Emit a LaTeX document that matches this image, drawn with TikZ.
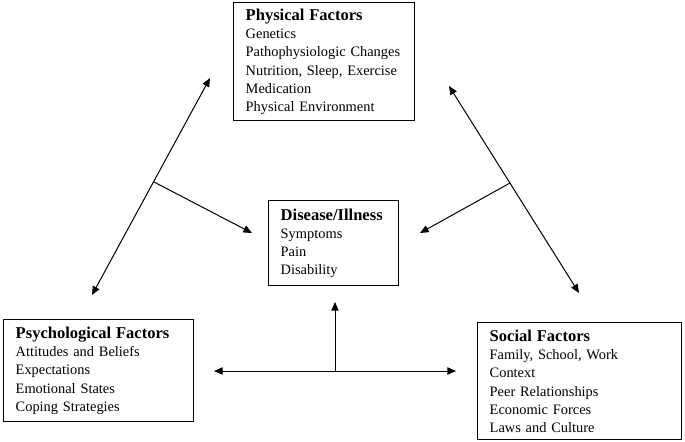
\documentclass[tikz,border=0pt]{standalone}
\usepackage{fontspec}
\setmainfont{Liberation Serif}
\usetikzlibrary{arrows.meta}

\newcommand{\boxtitle}[1]{{\fontsize{12.4}{13.6}\selectfont\bfseries #1}}

\begin{document}
\begin{tikzpicture}[x=0.75pt,y=-0.75pt,
    factorbox/.style={draw,line width=1.1pt,anchor=north west,align=left,
        inner xsep=9pt,inner ysep=3pt,
        font=\fontsize{10.8}{13.7}\selectfont},
    link/.style={line width=0.75pt,-{Triangle[length=6.5pt,width=5.5pt]}},
    biglink/.style={line width=0.75pt,{Triangle[length=6.5pt,width=5.5pt]}-{Triangle[length=6.5pt,width=5.5pt]}}]
  \useasboundingbox (0,0) rectangle (685,442);

  % four boxes
  \node[factorbox,text width=117.75pt,minimum width=135.75pt,minimum height=88.5pt] (phys) at (233,2)
    {\boxtitle{Physical Factors}\\Genetics\\Pathophysiologic Changes\\Nutrition, Sleep, Exercise\\Medication\\Physical Environment};
  \node[factorbox,text width=79.5pt,minimum width=97.5pt,minimum height=63.75pt] (disease) at (268,200)
    {\boxtitle{Disease/Illness}\\Symptoms\\Pain\\Disability};
  \node[factorbox,text width=124.5pt,minimum width=142.5pt,minimum height=76.5pt] (psych) at (3,319)
    {\boxtitle{Psychological Factors}\\Attitudes and Beliefs\\Expectations\\Emotional States\\Coping Strategies};
  \node[factorbox,text width=135pt,minimum width=153pt,minimum height=87.75pt] (social) at (477,322)
    {\boxtitle{Social Factors}\\Family, School, Work\\Context\\Peer Relationships\\Economic Forces\\Laws and Culture};

  % arrow ends
  \coordinate (ltop) at (210,78);
  \coordinate (lbot) at (92,295);
  \coordinate (lmid) at (154,182);
  \coordinate (ltip) at (252,233);
  \coordinate (rtop) at (449,86);
  \coordinate (rbot) at (579,293);
  \coordinate (rmid) at (510,183);
  \coordinate (rtip) at (420,233);
  \coordinate (bleft) at (214,371);
  \coordinate (bright) at (456,371);
  \coordinate (bmid) at (335,371);
  \coordinate (btip) at (335,302);

  \draw[biglink] (lbot) -- (ltop);
  \draw[link] (lmid) -- (ltip);
  \draw[biglink] (rtop) -- (rbot);
  \draw[link] (rmid) -- (rtip);
  \draw[biglink] (bleft) -- (bright);
  \draw[link] (bmid) -- (btip);
\end{tikzpicture}
\end{document}
